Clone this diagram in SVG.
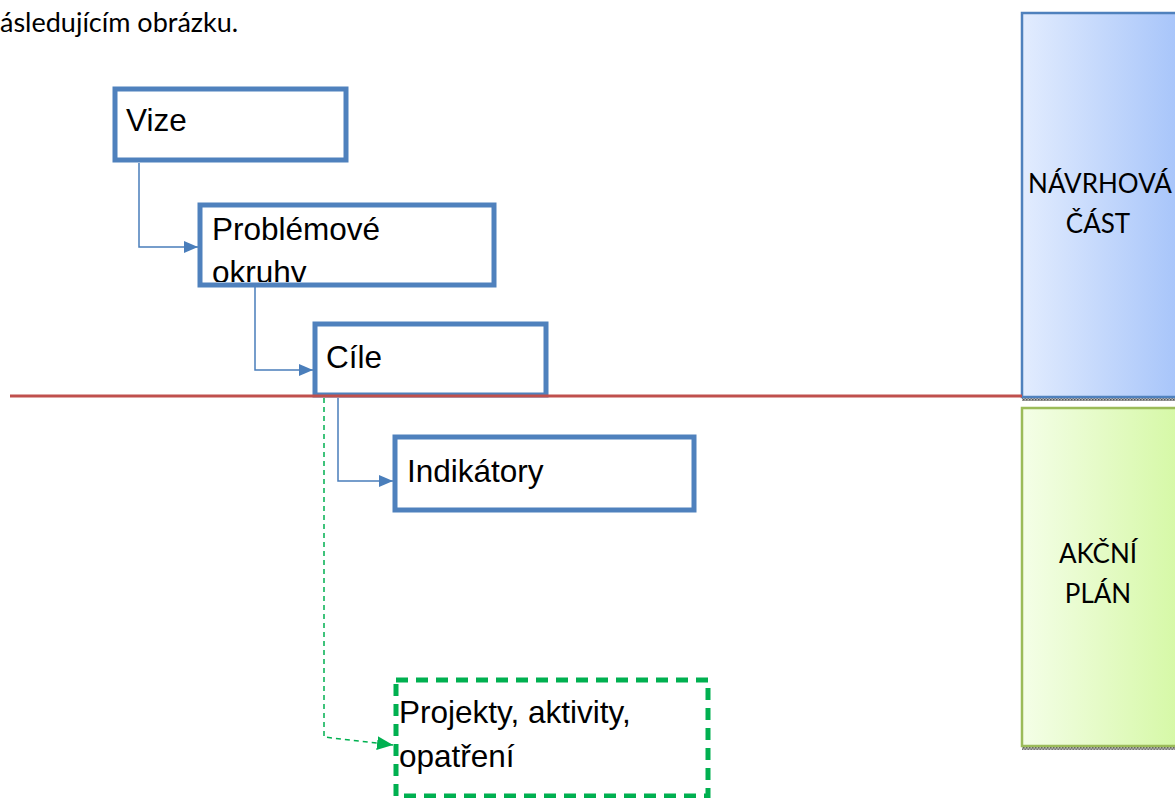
<svg xmlns="http://www.w3.org/2000/svg" width="1175" height="798" viewBox="0 0 1175 798">
<style>
.box{fill:#fff;stroke:#4F81BD;stroke-width:5}
.lbl{font-family:"Liberation Sans",Arial,sans-serif;font-size:31.5px;fill:#000}
.cal{font-family:Lato,"Open Sans",sans-serif;font-size:26px;fill:#000}
.conn{fill:none;stroke:#4A7EBB;stroke-width:1.5}
.gconn{fill:none;stroke:#00B050;stroke-width:1.5;stroke-dasharray:5 4}
</style>
<defs>
<linearGradient id="gb" x1="0" y1="0" x2="1" y2="0">
<stop offset="0" stop-color="#E2ECFE"/><stop offset="1" stop-color="#A6C4FA"/>
</linearGradient>
<linearGradient id="gg" x1="0" y1="0" x2="1" y2="0">
<stop offset="0" stop-color="#F4FEE7"/><stop offset="1" stop-color="#D5F8A5"/>
</linearGradient>
<pattern id="sh" width="3" height="3" patternUnits="userSpaceOnUse">
<rect width="3" height="3" fill="#bbb"/><rect width="1.5" height="1.5" fill="#555"/><rect x="1.5" y="1.5" width="1.5" height="1.5" fill="#777"/>
</pattern>
<marker id="ab" viewBox="0 0 14 12" refX="14" refY="6" markerWidth="14" markerHeight="12" markerUnits="userSpaceOnUse" orient="auto">
<path d="M0,0 L14,6 L0,12 Z" fill="#4A7EBB"/>
</marker>
<marker id="ag" viewBox="0 0 16 14" refX="16" refY="7" markerWidth="16" markerHeight="14" markerUnits="userSpaceOnUse" orient="auto">
<path d="M0,0 L16,7 L0,14 Z" fill="#00B050"/>
</marker>
<clipPath id="cp"><rect x="202" y="207" width="290" height="75"/></clipPath>
</defs>

<text class="cal" x="0" y="32" style="font-size:27px">ásledujícím obrázku.</text>

<g id="navrhova">
<rect x="1022" y="398" width="153" height="3" fill="url(#sh)"/>
<rect x="1022" y="13" width="160" height="384" fill="url(#gb)" stroke="#4F81BD" stroke-width="2.5"/>
<text class="cal" x="1100" y="193" text-anchor="middle">NÁVRHOVÁ</text>
<text class="cal" x="1098" y="233" text-anchor="middle">ČÁST</text>
</g>

<g id="akcni">
<rect x="1022" y="747" width="153" height="3" fill="url(#sh)"/>
<rect x="1022" y="408" width="160" height="338" fill="url(#gg)" stroke="#9BBB59" stroke-width="2.5"/>
<text class="cal" x="1098" y="563" text-anchor="middle">AKČNÍ</text>
<text class="cal" x="1098" y="603" text-anchor="middle">PLÁN</text>
</g>

<g id="connectors">
<path class="conn" d="M139,163 V247 H198" marker-end="url(#ab)"/>
<path class="conn" d="M255,287 V370 H313" marker-end="url(#ab)"/>
<path class="conn" d="M338,398 V481 H393" marker-end="url(#ab)"/>
<path class="gconn" d="M324,398 V737 L393,745" marker-end="url(#ag)"/>
</g>

<g id="vize">
<rect class="box" x="115" y="89" width="231" height="71"/>
<text class="lbl" x="126" y="131">Vize</text>
</g>

<g id="problemove">
<rect x="200" y="205" width="294" height="80" fill="#fff"/>
<g clip-path="url(#cp)">
<text class="lbl" x="212" y="240">Problémové</text>
<text class="lbl" x="212" y="283">okruhy</text>
</g>
<rect class="box" x="200" y="205" width="294" height="80" style="fill:none"/>
</g>

<g id="cile">
<rect class="box" x="315" y="324" width="231" height="71"/>
<text class="lbl" x="326" y="368">Cíle</text>
</g>

<g id="indikatory">
<rect class="box" x="395" y="437" width="299" height="73"/>
<text class="lbl" x="407" y="482">Indikátory</text>
</g>

<g id="projekty">
<rect x="396" y="680" width="312" height="116" fill="none" stroke="#00B050" stroke-width="5" stroke-dasharray="12 8"/>
<text class="lbl" x="399" y="723">Projekty, aktivity,</text>
<text class="lbl" x="399" y="767">opatření</text>
</g>

<line x1="10" y1="396" x2="1022" y2="396" stroke="#C0504D" stroke-width="3"/>
</svg>
